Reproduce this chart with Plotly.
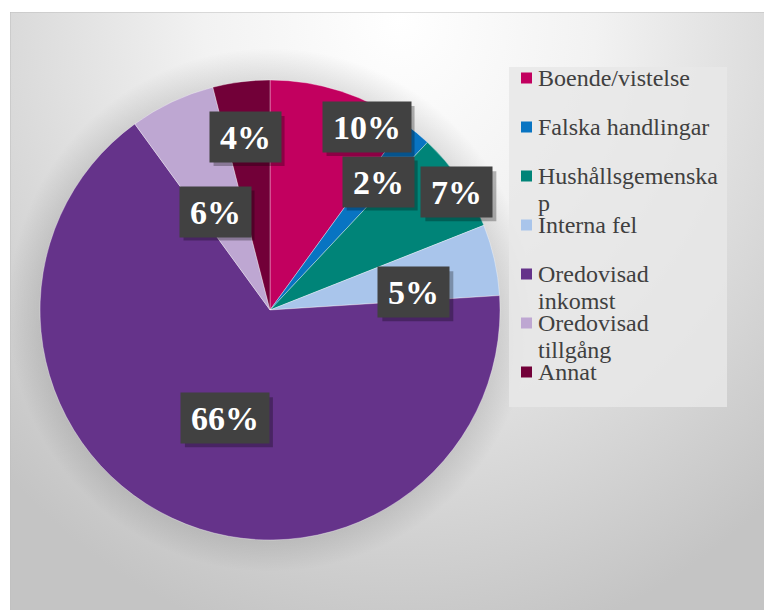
import math
import plotly.graph_objects as go

# ---- data ----
categories = ["Boende/vistelse", "Falska handlingar", "Hushållsgemenskap", "Interna fel",
              "Oredovisad inkomst", "Oredovisad tillgång", "Annat"]
values = [10, 2, 7, 5, 66, 6, 4]
legend_lines = [["Boende/vistelse"], ["Falska handlingar"], ["Hushållsgemenska", "p"],
                ["Interna fel"], ["Oredovisad", "inkomst"], ["Oredovisad", "tillgång"], ["Annat"]]

# ---- style ----
colors = ["#C2005F", "#0874C2", "#008478", "#A9C5EB", "#65338A", "#BEA7D2", "#720038"]
# label placement: (radius fraction, angular nudge in degrees)
label_place = [(0.90, 9.8), (0.73, 0.5), (0.96, 2.0), (0.63, 5.6), (0.51, -2.6), (0.49, -4.0), (0.76, -1.0)]

PAGE_W, PAGE_H = 772, 610
BODY = 8                     # browser body margin
W, H = PAGE_W - BODY, PAGE_H - BODY
L, T = 10, 12                # chart area starts here (page pixels)
CX, CY, R = 270, 310, 230
SERIF = "Times New Roman, Liberation Serif, serif"
FS = 34


def px(x):
    return (x - L) / (PAGE_W - L)


def py(y):
    return (PAGE_H - y) / (PAGE_H - T)


fig = go.Figure()

# background radial gradient
gx0, gx1, gy0, gy1 = 400 - 560, 400 + 560, 20 - 640, 20 + 640
fig.add_trace(go.Scatter(
    x=[gx0, gx1, gx1, gx0, gx0], y=[gy0, gy0, gy1, gy1, gy0],
    mode="lines", line=dict(width=0), fill="toself",
    fillgradient=dict(type="radial",
                      colorscale=[[0, "#ffffff"], [0.35, "#f2f2f2"], [0.75, "#d6d6d6"], [1, "#c4c4c4"]]),
    hoverinfo="skip", showlegend=False))

# soft shadow around the pie
SR = 262
ang = [i * 2 * math.pi / 120 for i in range(121)]
fig.add_trace(go.Scatter(
    x=[CX + SR * math.cos(a) for a in ang], y=[CY + SR * math.sin(a) for a in ang],
    mode="lines", line=dict(width=0), fill="toself",
    fillgradient=dict(type="radial",
                      colorscale=[[0, "rgba(0,0,0,0)"], [0.84, "rgba(0,0,0,0)"],
                                  [0.88, "rgba(0,0,0,0.10)"], [1, "rgba(0,0,0,0)"]]),
    hoverinfo="skip", showlegend=False))

fig.add_trace(go.Pie(
    labels=categories, values=values, sort=False, direction="clockwise", rotation=0,
    marker=dict(colors=colors, line=dict(color="rgba(255,255,255,0.35)", width=1)),
    textinfo="none", hoverinfo="label+percent", showlegend=False,
    domain=dict(x=[px(CX - R), px(CX + R)], y=[py(CY + R), py(CY - R)])))

shapes = [
    dict(type="rect", xref="x", yref="y", x0=L, x1=PAGE_W + 5, y0=T, y1=PAGE_H + 5,
         line=dict(color="#BDBDBD", width=1), fillcolor="rgba(0,0,0,0)", layer="above"),
    dict(type="rect", xref="x", yref="y", x0=509, x1=727, y0=67, y1=407,
         line=dict(width=0), fillcolor="rgba(232,232,232,0.85)", layer="above"),
]

total = sum(values)
cum = 0
annotations = []
for v, (rf, nudge) in zip(values, label_place):
    mid = (cum + v / 2) / total * 360 + nudge
    cum += v
    ax = CX + rf * R * math.sin(math.radians(mid))
    ay = CY - rf * R * math.cos(math.radians(mid))
    pct = round(v / total * 100)
    txt = f"{pct}%"
    bw = FS * 0.5 * len(str(pct)) + FS + 20
    bh = 50
    shapes.append(dict(type="rect", xref="x", yref="y",
                       x0=ax - bw / 2 + 4, x1=ax + bw / 2 + 4, y0=ay - bh / 2 + 4, y1=ay + bh / 2 + 4,
                       line=dict(width=0), fillcolor="rgba(0,0,0,0.28)", layer="above"))
    annotations.append(dict(x=ax, y=ay, xref="x", yref="y", text=f"<b>{txt}</b>", showarrow=False,
                            font=dict(family=SERIF, size=FS, color="white"),
                            width=bw - 20, height=bh - 20, borderpad=10,
                            xanchor="center", yanchor="middle", bgcolor="#414141"))

# manual legend
for i, (lines, c) in enumerate(zip(legend_lines, colors)):
    y0 = 78 + 49 * i
    shapes.append(dict(type="rect", xref="x", yref="y", x0=521, x1=532, y0=y0 - 5.5, y1=y0 + 5.5,
                       line=dict(width=0), fillcolor=c, layer="above"))
    for j, line in enumerate(lines):
        annotations.append(dict(x=536, y=y0 + 27 * j, xref="x", yref="y", text=line, showarrow=False,
                                xanchor="left", yanchor="middle",
                                font=dict(family=SERIF, size=24, color="#404040")))

fig.update_layout(
    width=W, height=H, margin=dict(l=L - BODY, r=0, t=T - BODY, b=0),
    paper_bgcolor="white", plot_bgcolor="rgba(0,0,0,0)",
    xaxis=dict(range=[L, PAGE_W], visible=False, fixedrange=True),
    yaxis=dict(range=[PAGE_H, T], visible=False, fixedrange=True),
    showlegend=False,
    shapes=shapes,
    annotations=annotations,
)

fig.write_html("out.html")
